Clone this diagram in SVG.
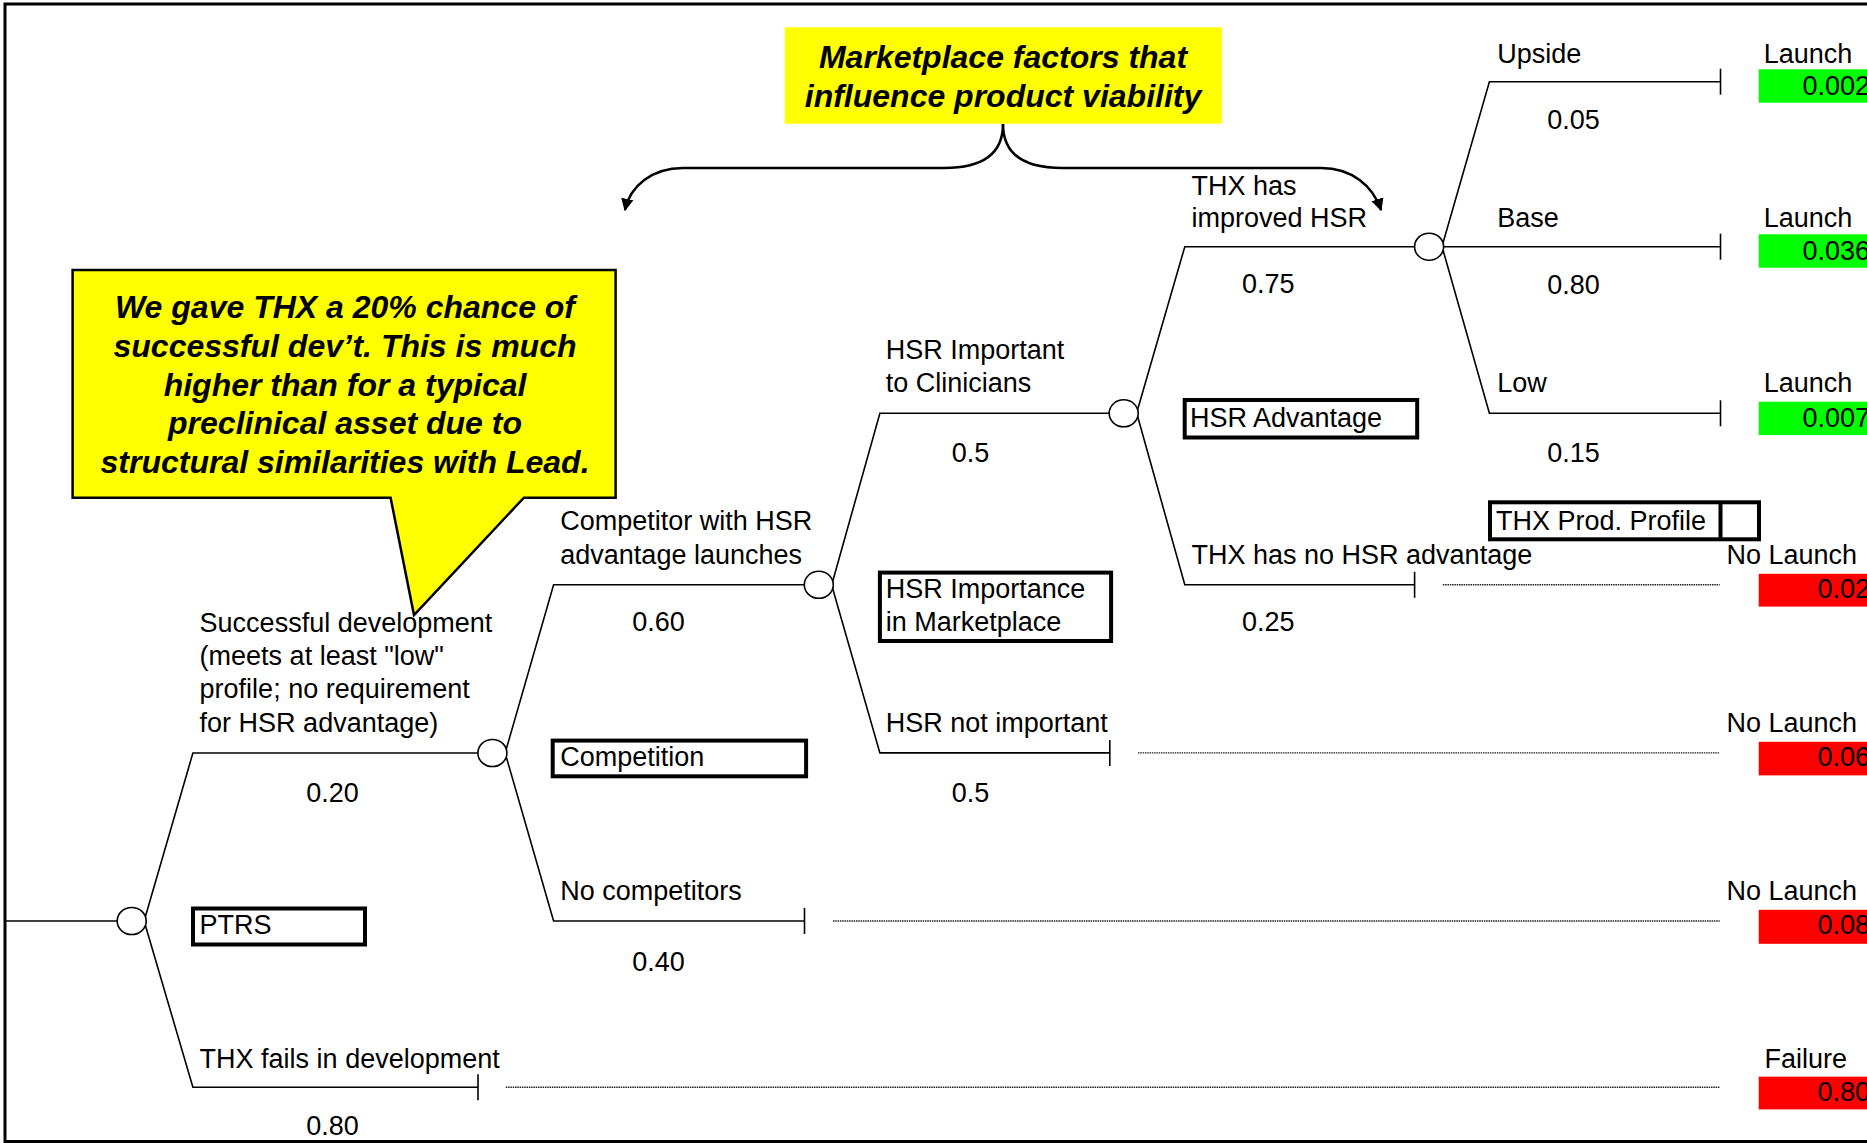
<svg xmlns="http://www.w3.org/2000/svg" width="1867" height="1143" viewBox="0 0 1867 1143">
<style>
  text { font-family: "Liberation Sans", Arial, sans-serif; font-size: 27px; fill: #000; }
  .c { text-anchor: middle; }
  .e { text-anchor: end; }
  .call { font-weight: bold; font-style: italic; font-size: 32px; text-anchor: middle; }
  .ln { stroke: #000; stroke-width: 1.6; fill: none; }
  .dot { stroke: #222; stroke-width: 1.4; stroke-dasharray: 1.5 0.8; fill: none; }
  .chance { fill: #fff; stroke: #000; stroke-width: 1.6; }
  .lbl { fill: #fff; stroke: #000; stroke-width: 4; }
  .g { fill: #00ff00; }
  .r { fill: #ff0000; }
  .brace { stroke: #000; stroke-width: 2.5; fill: none; }
</style>
<defs>
  <marker id="ah" viewBox="0 0 10 10" refX="9" refY="5" markerWidth="5" markerHeight="6" orient="auto" markerUnits="strokeWidth">
    <path d="M0,0 L10,5 L0,10 z" fill="#000"/>
  </marker>
</defs>
<rect x="5" y="4" width="1875" height="1137.5" fill="#fff" stroke="#000" stroke-width="3"/>

<g id="connectors">
  <path class="ln" d="M5,921 H117"/>
  <path class="ln" d="M145,918 L192.9,753 H478"/>
  <path class="ln" d="M145,924 L192.9,1087.3 H478"/>
  <path class="ln" d="M478,1074.3 V1100.3"/>
  <path class="dot" d="M505.8,1087.3 H1719.7"/>

  <path class="ln" d="M506,750 L553.6,584.8 H804.3"/>
  <path class="ln" d="M506,756 L553.6,921 H804.5"/>
  <path class="ln" d="M804.5,908 V934"/>
  <path class="dot" d="M833,921 H1719.7"/>

  <path class="ln" d="M832.5,582 L879.9,413.3 H1109.2"/>
  <path class="ln" d="M832.5,588 L879.9,752.9 H1109.8"/>
  <path class="ln" d="M1109.8,739.9 V765.9"/>
  <path class="dot" d="M1138,752.9 H1719.7"/>

  <path class="ln" d="M1137.5,410 L1184.8,246.7 H1414.6"/>
  <path class="ln" d="M1137.5,416 L1184.8,584.8 H1414.6"/>
  <path class="ln" d="M1414.6,571.8 V597.8"/>
  <path class="dot" d="M1442.9,584.8 H1719.7"/>

  <path class="ln" d="M1443,243 L1489.4,81.7 H1720.5"/>
  <path class="ln" d="M1443.6,246.7 H1720.5"/>
  <path class="ln" d="M1443,250 L1489.4,413.3 H1720.5"/>
  <path class="ln" d="M1720.5,68.7 V94.7"/>
  <path class="ln" d="M1720.5,233.7 V259.7"/>
  <path class="ln" d="M1720.5,400.3 V426.3"/>

  <path class="brace" d="M1003,124 C1003,152 985,168 944,168 H683 C652,168 630,186 625,210" marker-end="url(#ah)"/>
  <path class="brace" d="M1003,124 C1003,152 1021,168 1062,168 H1321 C1352,168 1373,186 1381,210" marker-end="url(#ah)"/>
</g>

<g id="node-root"><ellipse class="chance" cx="131.7" cy="921" rx="14.5" ry="13.5"/></g>
<g id="node-dev"><ellipse class="chance" cx="492.4" cy="753" rx="14.5" ry="13.5"/></g>
<g id="node-comp"><ellipse class="chance" cx="818.8" cy="584.8" rx="14.5" ry="13.5"/></g>
<g id="node-hsrimp"><ellipse class="chance" cx="1123.7" cy="413.3" rx="14.5" ry="13.5"/></g>
<g id="node-hsradv"><ellipse class="chance" cx="1429.1" cy="246.7" rx="14.5" ry="13.5"/></g>

<g id="branch-labels">
  <text x="199.6" y="632">Successful development</text>
  <text x="199.6" y="665.2">(meets at least "low"</text>
  <text x="199.6" y="698.4">profile; no requirement</text>
  <text x="199.6" y="731.6">for HSR advantage)</text>
  <text class="c" x="332.6" y="802">0.20</text>
  <text x="199.6" y="1068.4">THX fails in development</text>
  <text class="c" x="332.6" y="1135">0.80</text>

  <text x="560.3" y="530">Competitor with HSR</text>
  <text x="560.3" y="563.5">advantage launches</text>
  <text class="c" x="658.5" y="631">0.60</text>
  <text x="560.3" y="899.6">No competitors</text>
  <text class="c" x="658.5" y="970.5">0.40</text>

  <text x="885.7" y="359.3">HSR Important</text>
  <text x="885.7" y="392">to Clinicians</text>
  <text class="c" x="970.5" y="461.7">0.5</text>
  <text x="885.7" y="731.6">HSR not important</text>
  <text class="c" x="970.5" y="802">0.5</text>

  <text x="1191.5" y="195">THX has</text>
  <text x="1191.5" y="227">improved HSR</text>
  <text class="c" x="1268.3" y="293.3">0.75</text>
  <text x="1191.5" y="564">THX has no HSR advantage</text>
  <text class="c" x="1268.3" y="631.1">0.25</text>

  <text x="1497.2" y="62.8">Upside</text>
  <text class="c" x="1573.6" y="128.8">0.05</text>
  <text x="1497.2" y="227">Base</text>
  <text class="c" x="1573.6" y="293.5">0.80</text>
  <text x="1497.2" y="392">Low</text>
  <text class="c" x="1573.6" y="462">0.15</text>
</g>

<g id="label-ptrs"><rect class="lbl" x="193" y="908.5" width="172" height="36"/><text x="199.6" y="933.6">PTRS</text></g>
<g id="label-competition"><rect class="lbl" x="552.7" y="740.6" width="253.4" height="35.7"/><text x="560.3" y="766.4">Competition</text></g>
<g id="label-hsr-importance"><rect class="lbl" x="879.9" y="572.6" width="231.2" height="68.4"/><text x="885.7" y="598.4">HSR Importance</text><text x="885.7" y="631.1">in Marketplace</text></g>
<g id="label-hsr-advantage"><rect class="lbl" x="1184.7" y="400" width="232.5" height="37.5"/><text x="1190" y="426.7">HSR Advantage</text></g>
<g id="label-profile"><rect class="lbl" x="1490" y="502.3" width="269" height="37"/><line x1="1720.5" y1="502.3" x2="1720.5" y2="539.3" stroke="#000" stroke-width="4"/><text x="1496" y="529.5">THX Prod. Profile</text></g>

<g id="outcomes">
  <text x="1763.8" y="62.8">Launch</text>
  <rect class="g" x="1758.7" y="69.3" width="120" height="33.4"/><text class="e" x="1870" y="95">0.002</text>
  <text x="1763.8" y="227">Launch</text>
  <rect class="g" x="1758.7" y="234.3" width="120" height="33.4"/><text class="e" x="1870" y="260">0.036</text>
  <text x="1763.8" y="392">Launch</text>
  <rect class="g" x="1758.7" y="401.7" width="120" height="33.4"/><text class="e" x="1870" y="426.7">0.007</text>
  <text x="1726.4" y="564">No Launch</text>
  <rect class="r" x="1758.7" y="573.8" width="120" height="32.8"/><text class="e" x="1870" y="598.4">0.02</text>
  <text x="1726.4" y="731.6">No Launch</text>
  <rect class="r" x="1758.7" y="741.8" width="120" height="33.6"/><text class="e" x="1870" y="766.4">0.06</text>
  <text x="1726.4" y="899.6">No Launch</text>
  <rect class="r" x="1758.7" y="909.8" width="120" height="34"/><text class="e" x="1870" y="934">0.08</text>
  <text x="1764.6" y="1068.4">Failure</text>
  <rect class="r" x="1758.7" y="1076.6" width="120" height="32.8"/><text class="e" x="1870" y="1101">0.80</text>
</g>

<g id="callout-marketplace">
  <rect x="784.8" y="27.3" width="437.1" height="96.4" fill="#ffff00"/>
  <text class="call" x="1003" y="68.3">Marketplace factors that</text>
  <text class="call" x="1003" y="107.3">influence product viability</text>
</g>

<g id="callout-ptrs">
  <path d="M72.6,270 H615.6 V497.7 H523.9 L414,615 L390.6,497.7 H72.6 Z" fill="#ffff00" stroke="#000" stroke-width="2.5" stroke-linejoin="miter"/>
  <text class="call" x="345" y="318">We gave THX a 20% chance of</text>
  <text class="call" x="345" y="356.7">successful dev’t. This is much</text>
  <text class="call" x="345" y="395.5">higher than for a typical</text>
  <text class="call" x="345" y="434.2">preclinical asset due to</text>
  <text class="call" x="345" y="473">structural similarities with Lead.</text>
</g>
</svg>
